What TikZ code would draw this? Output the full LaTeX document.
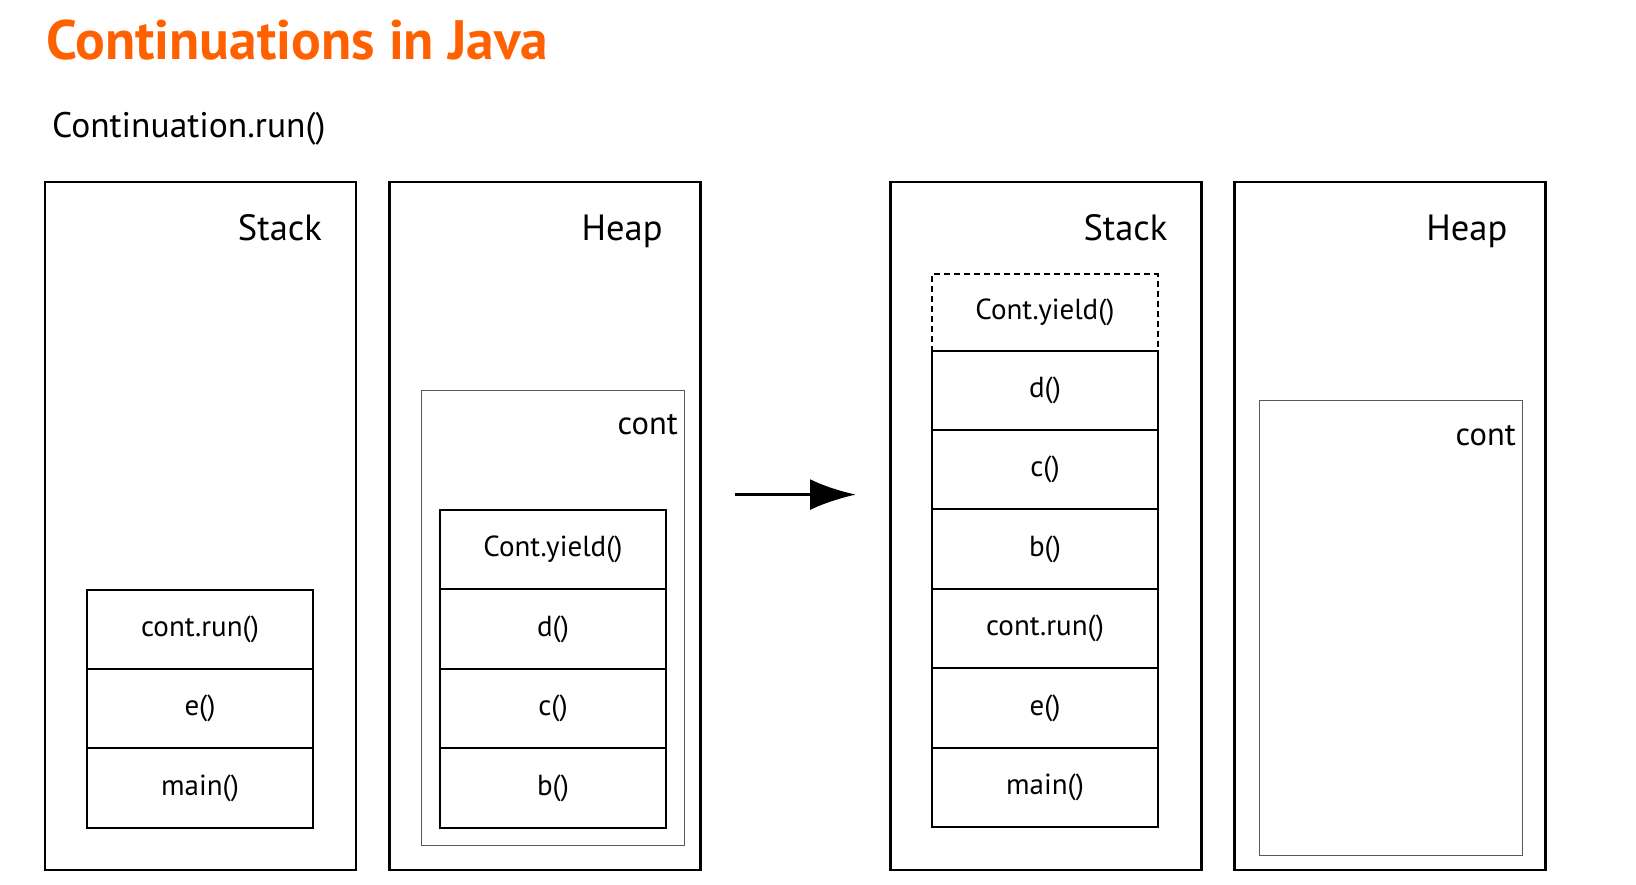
\documentclass[tikz,border=0pt]{standalone}
\usepackage{fontspec}
\setmainfont{PT Sans}
\usepackage{tikz}
\usetikzlibrary{positioning, arrows.meta}
\definecolor{INGOrange}{rgb}{1,0.38,0}

\tikzset{
	mem/.style={draw, line width=2.6pt, minimum width=311pt, minimum height=688pt, inner sep=0pt, outer sep=0pt},
	contbox/.style={draw=black!65, line width=1.3pt, minimum width=263pt, minimum height=455pt, inner sep=0pt, outer sep=0pt},
	frame/.style={draw, line width=2pt, minimum width=226pt, minimum height=79.4pt, inner sep=0pt, outer sep=0pt, font=\fontsize{29}{34}\selectfont},
	region/.style={anchor=base east, inner sep=0pt, font=\fontsize{36.5}{44}\selectfont}
}

\begin{document}
\begin{tikzpicture}[x=1pt, y=-1pt]
		\useasboundingbox (0,0) rectangle (1636,884);
		
		\node [anchor=base west, inner sep=0pt, text=INGOrange, font=\fontsize{55.5}{62}\selectfont\bfseries] (title) at (46,59.5) {Continuations in Java};
		\node [anchor=base west, inner sep=0pt, font=\fontsize{35.5}{42}\selectfont] (call) at (52,137.3) {Continuation.run()};
		
		% before the call
		\node [mem] (stackA) at (200.5,526) {};
		\node [region] (stackAname) at (322,240.7) {Stack};
		\node [frame] (runA) at (200,629.2) {cont.run()};
		\node [frame, below=0pt of runA] (eA) {e()};
		\node [frame, below=0pt of eA] (mainA) {main()};
		
		\node [mem] (heapA) at (545,526) {};
		\node [region] (heapAname) at (662.7,240.7) {Heap};
		\node [contbox] (contA) at (553,618) {};
		\node [region, font=\fontsize{32.5}{38}\selectfont] (contAname) at (678,434.3) {cont};
		\node [frame] (yieldA) at (553,549.7) {Cont.yield()};
		\node [frame, below=0pt of yieldA] (dA) {d()};
		\node [frame, below=0pt of dA] (cA) {c()};
		\node [frame, below=0pt of cA] (bA) {b()};
		
		\coordinate (from) at (734.5,494.6);
		\coordinate (to) at (856,494.6);
		\draw [line width=3.5pt, -{Latex[length=46pt, width=31pt]}] (from) -- (to);
		
		% after the call
		\node [mem] (stackB) at (1046,526) {};
		\node [region] (stackBname) at (1167.5,240.7) {Stack};
		\node [frame, dash pattern=on 6pt off 4pt, minimum height=76.2pt] (yieldB) at (1045,312.5) {Cont.yield()};
		\node [frame, below=0pt of yieldB] (dB) {d()};
		\node [frame, below=0pt of dB] (cB) {c()};
		\node [frame, below=0pt of cB] (bB) {b()};
		\node [frame, below=0pt of bB] (runB) {cont.run()};
		\node [frame, below=0pt of runB] (eB) {e()};
		\node [frame, below=0pt of eB] (mainB) {main()};
		
		\node [mem] (heapB) at (1390,526) {};
		\node [region] (heapBname) at (1507.5,240.7) {Heap};
		\node [contbox] (contB) at (1391,628) {};
		\node [region, font=\fontsize{32.5}{38}\selectfont] (contBname) at (1516,445.7) {cont};
	\end{tikzpicture}
\end{document}
